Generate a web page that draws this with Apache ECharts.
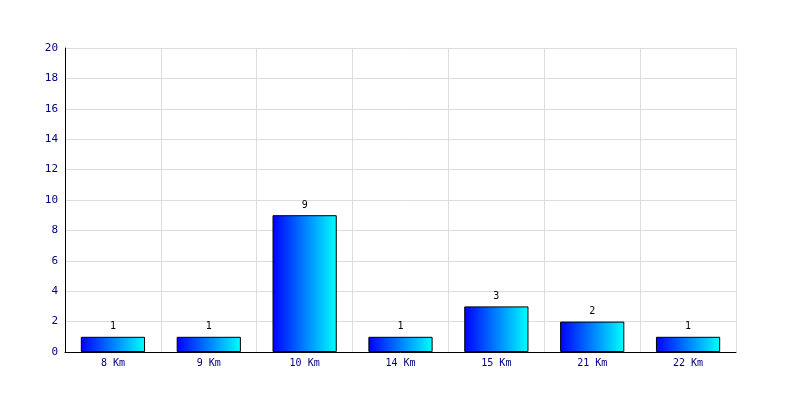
<!DOCTYPE html>
<html><head><meta charset="utf-8">
<script src="https://cdn.jsdelivr.net/npm/echarts@6/dist/echarts.min.js"></script>
<style>html,body{margin:0;padding:0;background:#fff}#c{width:800px;height:400px}</style>
</head><body><div id="c"></div>
<script>
var categories = ['8 Km','9 Km','10 Km','14 Km','15 Km','21 Km','22 Km'];
var values = [1,1,9,1,3,2,1];
var yMin = 0, yMax = 20, yStep = 2;

var chart = echarts.init(document.getElementById('c'), null, {renderer:'canvas'});
chart.setOption({
  animation:false,
  backgroundColor:'#ffffff',
  grid:{left:65,right:64,top:48,bottom:48,containLabel:false},
  xAxis:{
    type:'category', data:categories,
    axisLine:{lineStyle:{color:'#000',width:1}},
    axisTick:{show:false},
    axisLabel:{color:'#000080',fontFamily:'DejaVu Sans Mono',fontSize:10,margin:6},
    splitLine:{show:true,lineStyle:{color:'#dddddd',width:1}}
  },
  yAxis:{
    type:'value', min:yMin, max:yMax, interval:yStep,
    axisLine:{show:true,lineStyle:{color:'#000',width:1}},
    axisTick:{show:false},
    axisLabel:{color:'#000080',fontFamily:'DejaVu Sans Mono',fontSize:11,margin:7},
    splitLine:{show:true,lineStyle:{color:'#dddddd',width:1}}
  },
  series:[{
    type:'bar', data:values, barCategoryGap:'33%',
    itemStyle:{
      color:new echarts.graphic.LinearGradient(0,0,1,0,[{offset:0,color:'#0000ff'},{offset:1,color:'#00ffff'}]),
      borderColor:'#000',borderWidth:1
    },
    label:{show:true,position:'top',color:'#000',fontFamily:'DejaVu Sans Mono',fontSize:10,distance:5}
  }]
});
</script></body></html>
